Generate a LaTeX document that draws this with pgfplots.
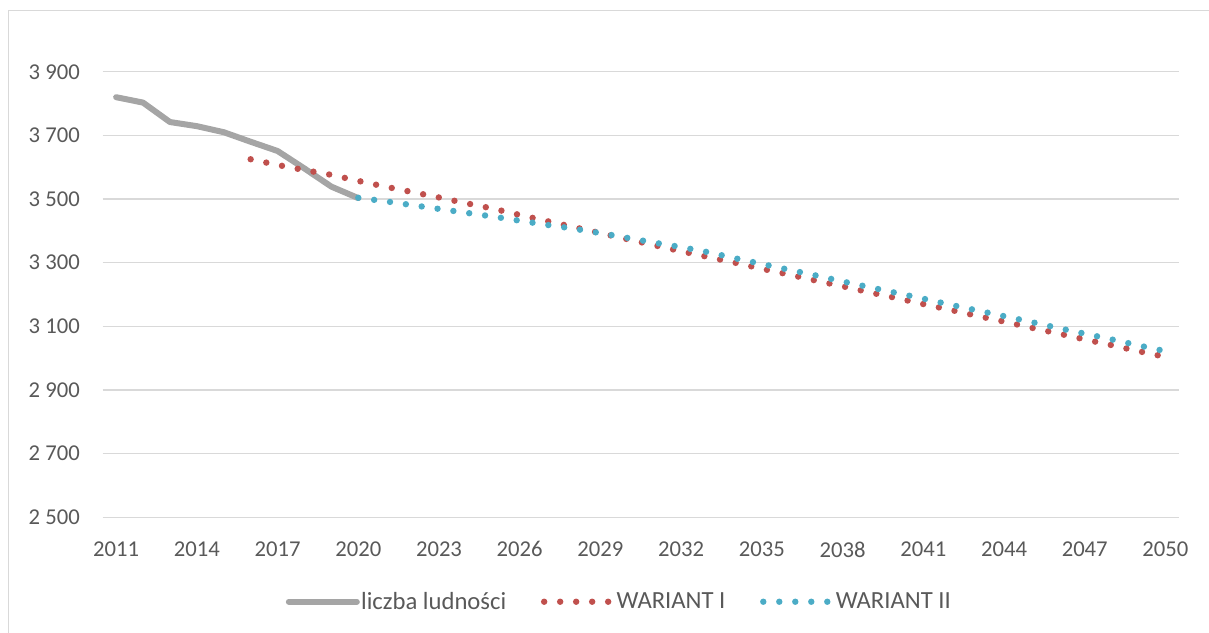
\documentclass[border=0pt]{standalone}
\usepackage{pgfplots}
\pgfplotsset{compat=1.18}
\usepackage{fontspec}
\setmainfont{Carlito}

\definecolor{txt}{HTML}{595959}
\definecolor{gridc}{HTML}{D9D9D9}
\definecolor{ludn}{HTML}{A5A5A5}
\definecolor{war1}{HTML}{C0504D}
\definecolor{war2}{HTML}{4BACC6}

\begin{document}
\begin{tikzpicture}
\useasboundingbox (0pt,0pt) rectangle (906.75pt,474pt);
% chart frame (only top and left edges are visible)
\draw[gridc, line width=1pt] (6.2pt,-5pt) -- (6.2pt,466pt) -- (915pt,466pt);

\begin{axis}[
    at={(77.0pt,86.0pt)},
    anchor=south west,
    scale only axis,
    width=807.2pt,
    height=334.2pt,
    xmin=2010.5, xmax=2050.5,
    ymin=2500, ymax=3900,
    xtick={2011,2014,...,2050},
    ytick={2500,2700,...,3900},
    axis line style={draw=none},
    tick style={draw=none},
    major tick length=0pt,
    xmajorgrids=false,
    ymajorgrids=true,
    major grid style={draw=gridc, line width=1pt},
    font=\fontsize{17}{20}\selectfont,
    /pgf/number format/assume math mode=true,
    xticklabel style={/pgf/number format/1000 sep={}, text=txt,
        anchor=north, inner sep=0pt, yshift=-18pt},
    yticklabel style={/pgf/number format/1000 sep={\ }, text=txt,
        anchor=east, inner sep=0pt, xshift=-17pt},
    legend columns=3,
    legend image code/.code={\draw[#1] (0pt,0pt) -- (51pt,0pt);},
    legend style={draw=none, fill=none, text=txt,
        font=\fontsize{18.5}{22}\selectfont,
        at={(0.4797,-0.1894)}, anchor=center,
        nodes={inner sep=1pt},
        /tikz/every odd column/.append style={column sep=0pt},
        /tikz/every even column/.append style={column sep=25pt}},
]

\addplot[ludn, line width=4.5pt, line cap=round, line join=round]
    coordinates {
        (2011,3820) (2012,3803) (2013,3742) (2014,3729) (2015,3710)
        (2016,3680) (2017,3651) (2018,3596) (2019,3539) (2020,3503)
    };

\addplot[war1, line width=4.8pt, line cap=round, dash pattern=on 0pt off 12pt]
    coordinates {
        (2016,3625) (2017,3607) (2018,3591) (2019,3576) (2020,3557)
        (2021,3539) (2022,3522) (2023,3505) (2024,3487) (2025,3470)
        (2026,3450) (2027,3431) (2028,3412) (2029,3393) (2030,3374)
        (2031,3355) (2032,3336) (2033,3318) (2034,3300) (2035,3281)
        (2036,3263) (2037,3244) (2038,3226) (2039,3207) (2040,3189)
        (2041,3170) (2042,3152) (2043,3133) (2044,3115) (2045,3096)
        (2046,3078) (2047,3059) (2048,3041) (2049,3022) (2050,3004)
    };

\addplot[war2, line width=4.8pt, line cap=round, dash pattern=on 0pt off 12pt]
    coordinates {
        (2020,3504) (2021,3493) (2022,3481) (2023,3469) (2024,3457)
        (2025,3445) (2026,3432) (2027,3419) (2028,3407) (2029,3393)
        (2030,3378) (2031,3363) (2032,3349) (2033,3333) (2034,3314)
        (2035,3296) (2036,3278) (2037,3260) (2038,3241) (2039,3223)
        (2040,3205) (2041,3187) (2042,3168) (2043,3150) (2044,3132)
        (2045,3114) (2046,3095) (2047,3077) (2048,3059) (2049,3040)
        (2050,3022)
    };

\legend{liczba ludności, WARIANT I, WARIANT II}
\end{axis}
\end{tikzpicture}
\end{document}
